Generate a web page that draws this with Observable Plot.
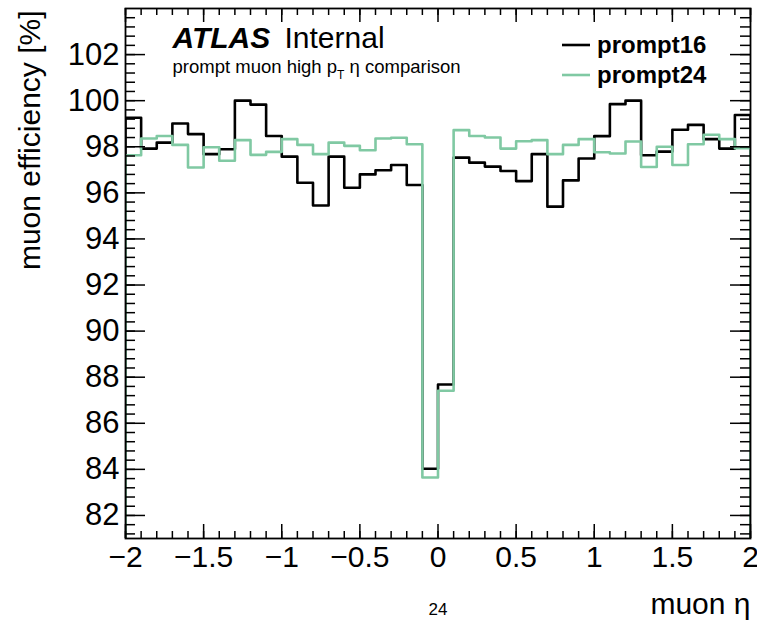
<!DOCTYPE html>
<html><head><meta charset="utf-8">
<script src="https://cdn.jsdelivr.net/npm/d3@7"></script>
<script src="https://cdn.jsdelivr.net/npm/@observablehq/plot@0.6"></script>
<style>body{margin:0;background:#fff;} svg{display:block;}</style>
</head><body><div id="chart"></div>
<script>
// Bin edges in muon eta (40 bins of width 0.1)
const etaEdges = [-2.0,-1.9,-1.8,-1.7,-1.6,-1.5,-1.4,-1.3,-1.2,-1.1,-1.0,-0.9,-0.8,-0.7,-0.6,-0.5,-0.4,-0.3,-0.2,-0.1,0.0,
  0.1,0.2,0.3,0.4,0.5,0.6,0.7,0.8,0.9,1.0,1.1,1.2,1.3,1.4,1.5,1.6,1.7,1.8,1.9,2.0];
// Efficiency [%] per bin
const prompt16 = [99.26,97.92,98.18,99.01,98.55,97.68,97.89,100.0,99.83,98.47,
  97.57,96.44,95.45,97.57,96.22,96.80,96.98,97.21,96.34,84.03,
  87.68,97.53,97.31,97.14,96.95,96.51,97.68,95.40,96.54,97.49,
  98.46,99.85,100.0,97.63,97.79,98.74,98.95,98.33,97.92,99.38];
const prompt24 = [97.63,98.36,98.47,98.08,97.10,97.98,97.39,98.29,97.65,97.78,
  98.33,98.08,97.68,98.18,98.04,97.85,98.36,98.39,98.11,83.65,
  87.41,98.72,98.47,98.40,97.92,98.24,98.29,97.68,98.08,98.33,
  97.76,97.71,98.23,97.12,98.00,97.21,98.11,98.52,98.33,97.94];
const seriesNames = ["prompt16","prompt24"];
const seriesColors = ["#000000","#80c9a3"];
const xMajorTicks = [-2,-1.5,-1,-0.5,0,0.5,1,1.5,2];
const yMajorTicks = [82,84,86,88,90,92,94,96,98,100,102];
const xMinorTicks = etaEdges;
const yMinorTicks = d3.range(0, 58).map(i => +(81.2 + 0.4*i).toFixed(1)).filter(v => v < 104);

const W = 757, H = 623, ML = 125, MR = 7, MT = 8, MB = 85;
const FW = W - ML - MR, FH = H - MT - MB;
const yFloor = 0;

function outline(vals){
  const pts = [{x: etaEdges[0], y: yFloor}];
  vals.forEach((v,i) => { pts.push({x: etaEdges[i], y: v}); pts.push({x: etaEdges[i+1], y: v}); });
  pts.push({x: etaEdges[etaEdges.length-1], y: yFloor});
  return pts;
}
const fmt = d => d < 0 ? "\u2212" + Math.abs(d) : String(d);
const font = "'Liberation Sans', Arial, Helvetica, sans-serif";

const plot = Plot.plot({
  width: W, height: H, marginLeft: ML, marginRight: MR, marginTop: MT, marginBottom: MB,
  style: {fontFamily: font, background: "white", color: "black"},
  x: {domain: [-2, 2]},
  y: {domain: [81, 104]},
  marks: [
    Plot.line(outline(prompt16), {x: "x", y: "y", stroke: seriesColors[0], strokeWidth: 2.6, clip: true}),
    Plot.line(outline(prompt24), {x: "x", y: "y", stroke: seriesColors[1], strokeWidth: 2.6, clip: true}),
    Plot.frame({stroke: "black", strokeWidth: 1.8}),
    // bottom ticks
    Plot.tickX(xMinorTicks, {x: d => d, insetTop: FH - 7, stroke: "black", strokeWidth: 1.5}),
    Plot.tickX(xMajorTicks, {x: d => d, insetTop: FH - 14, stroke: "black", strokeWidth: 1.5}),
    // top ticks
    Plot.tickX(xMinorTicks, {x: d => d, insetBottom: FH - 7, stroke: "black", strokeWidth: 1.5}),
    Plot.tickX(xMajorTicks, {x: d => d, insetBottom: FH - 14, stroke: "black", strokeWidth: 1.5}),
    // left ticks
    Plot.tickY(yMinorTicks, {y: d => d, insetRight: FW - 10, stroke: "black", strokeWidth: 1.5}),
    Plot.tickY(yMajorTicks, {y: d => d, insetRight: FW - 20, stroke: "black", strokeWidth: 1.5}),
    // right ticks
    Plot.tickY(yMinorTicks, {y: d => d, insetLeft: FW - 10, stroke: "black", strokeWidth: 1.5}),
    Plot.tickY(yMajorTicks, {y: d => d, insetLeft: FW - 20, stroke: "black", strokeWidth: 1.5}),
    Plot.axisX(xMajorTicks, {tickSize: 0, tickPadding: 7, fontSize: 30, tickFormat: fmt, label: null}),
    Plot.axisY(yMajorTicks, {tickSize: 0, tickPadding: 6, fontSize: 31, tickFormat: fmt, label: null}),
    Plot.text(["muon efficiency [%]"], {frameAnchor: "top-left", rotate: -90, textAnchor: "end", lineAnchor: "middle", dx: -95, dy: 2, fontSize: 30}),
    Plot.text(["muon \u03b7"], {frameAnchor: "bottom-right", textAnchor: "end", lineAnchor: "bottom", dy: 75, fontSize: 30}),
    Plot.text(["24"], {frameAnchor: "bottom", textAnchor: "middle", lineAnchor: "bottom", dy: 76, fontSize: 17}),
    Plot.text(["ATLAS"], {frameAnchor: "top-left", textAnchor: "start", lineAnchor: "bottom", dx: 47, dy: 39, fontSize: 30, fontWeight: "bold", fontStyle: "italic"}),
    Plot.text(["Internal"], {frameAnchor: "top-left", textAnchor: "start", lineAnchor: "bottom", dx: 159, dy: 39, fontSize: 30}),
    Plot.text(["prompt muon high pT \u03b7 comparison"], {frameAnchor: "top-left", textAnchor: "start", lineAnchor: "bottom", dx: 47, dy: 64, fontSize: 18.5})
  ]
});

document.getElementById("chart").appendChild(plot);
const svg = d3.select(plot);

// legend (drawn in pixel space, relative to the frame)
const legendRows = [45, 75];
seriesNames.forEach((name, i) => {
  svg.append("line").attr("x1", ML + 437).attr("x2", ML + 465)
    .attr("y1", MT + legendRows[i] - 8).attr("y2", MT + legendRows[i] - 8)
    .attr("stroke", seriesColors[i]).attr("stroke-width", 2.6);
  svg.append("text").attr("x", ML + 472).attr("y", MT + legendRows[i])
    .attr("text-anchor", "start")
    .attr("font-family", font).attr("font-size", 24).attr("font-weight", "bold")
    .attr("fill", "black").text(name);
});

// subscript T in the subtitle
svg.selectAll("text").each(function(){
  if (this.textContent === "prompt muon high pT \u03b7 comparison") {
    const t = d3.select(this);
    t.text("");
    t.append("tspan").text("prompt muon high p");
    t.append("tspan").attr("dy", 6).attr("font-size", 12).text("T");
    t.append("tspan").attr("dy", -6).text(" \u03b7 comparison");
  }
});
</script>
</body></html>
